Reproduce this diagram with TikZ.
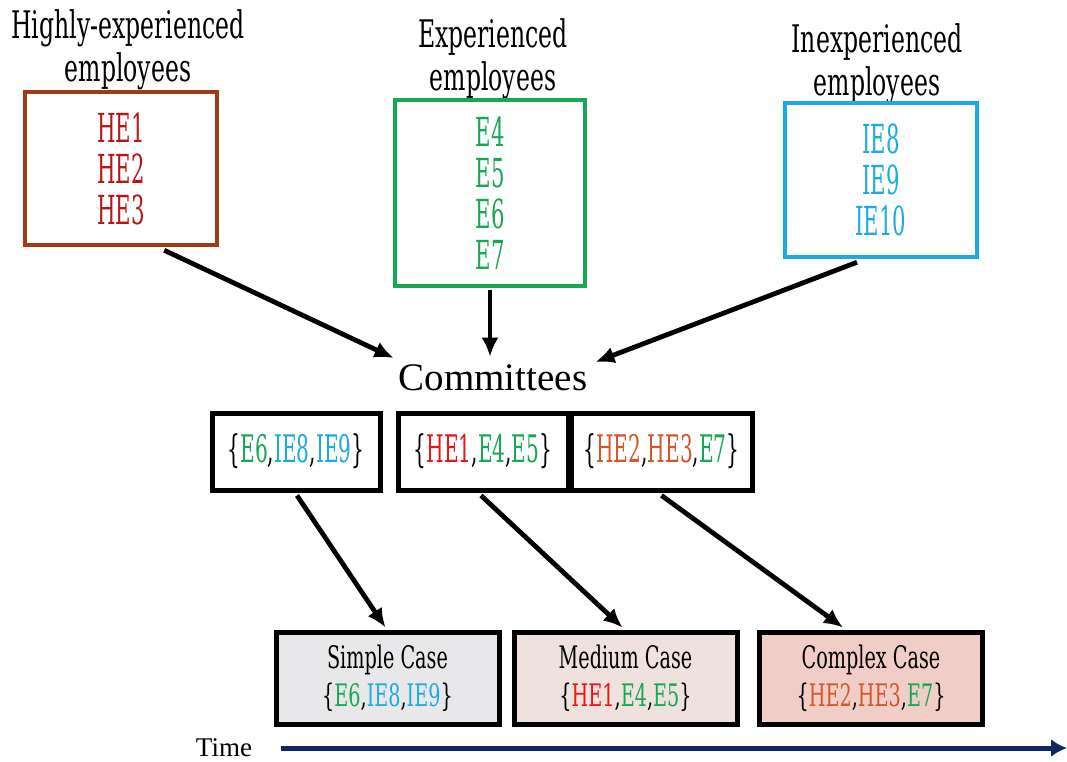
\documentclass[tikz,border=0pt]{standalone}
\usepackage{fontspec}
\usetikzlibrary{arrows.meta,calc}
\newfontfamily\slab[FakeStretch=0.62]{DejaVu Serif}
\newfontfamily\slabn[FakeStretch=0.53]{DejaVu Serif}
\newfontfamily\tms{Liberation Serif}
\definecolor{hebrown}{RGB}{158,58,22}
\definecolor{hetext}{RGB}{185,22,22}
\definecolor{egreen}{RGB}{22,168,82}
\definecolor{iecyan}{RGB}{28,170,226}
\definecolor{hered}{RGB}{232,22,22}
\definecolor{heorange}{RGB}{208,88,42}
\definecolor{simplefill}{RGB}{232,231,233}
\definecolor{mediumfill}{RGB}{239,225,222}
\definecolor{complexfill}{RGB}{241,205,199}
\definecolor{navy}{RGB}{16,38,100}
\begin{document}
\begin{tikzpicture}[x=1pt,y=-1pt,
  title/.style={font=\slab\fontsize{38}{43}\selectfont, align=center, text=black},
  groupbox/.style={draw, line width=4.5pt, align=center, inner sep=0pt,
     font=\slabn\fontsize{40}{41}\selectfont},
  combox/.style={draw=black, line width=5pt, minimum width=#1, minimum height=77, inner sep=0pt,
     font=\slabn\fontsize{38}{40}\selectfont},
  casebox/.style={draw=black, line width=5pt, minimum width=223, minimum height=92, inner sep=0pt,
     align=center, font=\slab\fontsize{31}{38}\selectfont},
  arr/.style={line width=4.8pt, -{Latex[length=19pt,width=17pt]}}
]
\useasboundingbox[fill=white] (0,0) rectangle (1067,761);

% titles
\node[title] (t1) at (128,50) {Highly-experienced\\employees};
\node[title] (t2) at (493,59) {Experienced\\employees};
\node[title] (t3) at (877,64) {Inexperienced\\employees};

% group boxes
\node[groupbox, draw=hebrown, text=hetext, minimum width=192, minimum height=153] (he) at (121,168.5) {HE1\\HE2\\HE3};
\node[groupbox, draw=egreen, text=egreen, minimum width=190, minimum height=186] (e) at (490,193) {E4\\E5\\E6\\E7};
\node[groupbox, draw=iecyan, text=iecyan, minimum width=192, minimum height=154] (ie) at (881,180) {IE8\\IE9\\IE10};

% committees
\node[font=\tms\fontsize{39}{44}\selectfont, inner sep=0pt] (comm) at (493,378) {Committees};

\draw[arr] ($(he.south east)+(-55,3)$) -- ($(comm.west)+(-5,-20)$);
\draw[arr] ($(e.south)+(0,2)$) -- ($(comm.north)+(-3,-8)$);
\draw[arr] ($(ie.south)+(-24,3)$) -- ($(comm.east)+(8,-16)$);

% committee boxes
\node[combox=168] (c1) at (296,451.5) {\{\textcolor{egreen}{E6},\textcolor{iecyan}{IE8},\textcolor{iecyan}{IE9}\}};
\node[combox=170] (c2) at (483,451.5) {\{\textcolor{hered}{HE1},\textcolor{egreen}{E4},\textcolor{egreen}{E5}\}};
\node[combox=181] (c3) at (661.5,451.5) {\{\textcolor{heorange}{HE2},\textcolor{heorange}{HE3},\textcolor{egreen}{E7}\}};

% case boxes
\node[casebox, fill=simplefill] (sc) at (387.5,678) {Simple Case\\\{\textcolor{egreen}{E6},\textcolor{iecyan}{IE8},\textcolor{iecyan}{IE9}\}};
\node[casebox, fill=mediumfill] (mc) at (625.5,678) {Medium Case\\\{\textcolor{hered}{HE1},\textcolor{egreen}{E4},\textcolor{egreen}{E5}\}};
\node[casebox, fill=complexfill] (cc) at (871,678) {Complex Case\\\{\textcolor{heorange}{HE2},\textcolor{heorange}{HE3},\textcolor{egreen}{E7}\}};

\draw[arr] ($(c1.south)+(1,3)$) -- ($(sc.north)+(-2,-2)$);
\draw[arr] ($(c2.south)+(-2,3)$) -- ($(mc.north)+(-3,-2)$);
\draw[arr] ($(c3.south)+(0,3)$) -- ($(cc.north)+(-28,-2)$);

% time axis
\node[font=\tms\fontsize{27}{30}\selectfont, inner sep=0pt] (time) at (224,748) {Time};
\coordinate (tend) at (1067,748);
\draw[line width=5pt, navy, -{Latex[length=16pt,width=18pt]}] ($(time.west)+(85,0)$) -- (tend);
\end{tikzpicture}
\end{document}
